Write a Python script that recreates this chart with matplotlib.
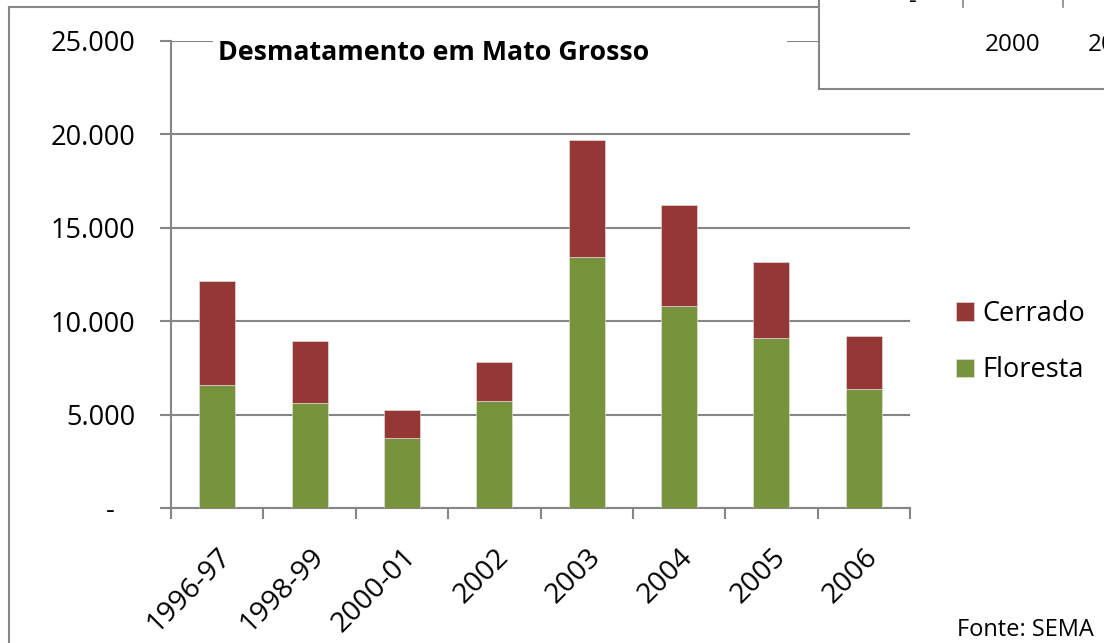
import matplotlib
matplotlib.use("Agg")
import matplotlib.pyplot as plt
import matplotlib.patches as mpatches
from matplotlib.lines import Line2D
import numpy as np

# --- data (km2) ---
periods = ["1996-97", "1998-99", "2000-01", "2002", "2003", "2004", "2005", "2006"]
floresta = [6600, 5600, 3750, 5730, 13440, 10800, 9080, 6370]
cerrado_total = [12150, 8940, 5230, 7820, 19700, 16220, 13150, 9190]
cerrado = [t - f for t, f in zip(cerrado_total, floresta)]
y_ticks = [0, 5000, 10000, 15000, 20000, 25000]
y_labels = ["-   ", "5.000", "10.000", "15.000", "20.000", "25.000"]

GREEN = "#77933C"
RED = "#953735"
GRAY = "#868686"
W, H = 1104, 643

plt.rcParams["font.family"] = ["Open Sans", "DejaVu Sans"]

fig = plt.figure(figsize=(W / 100, H / 100), dpi=100)


def fx(px):
    return px / W


def fy(py):
    return 1 - py / H


ax = fig.add_axes([fx(171), fy(508), fx(910) - fx(171), fy(41) - fy(508)])

x = np.arange(len(periods))
ax.bar(x, floresta, width=0.39, color=GREEN, edgecolor="#e8e8e8", linewidth=0.4, zorder=3,
       label="Floresta")
ax.bar(x, cerrado, bottom=floresta, width=0.39, color=RED, edgecolor="#e8e8e8", linewidth=0.4,
       zorder=3, label="Cerrado")

ax.set_xlim(-0.5, len(periods) - 0.5)
ax.set_ylim(0, 25000)

ax.set_yticks(y_ticks)
ax.set_yticklabels(y_labels, fontsize=19.5)
ax.yaxis.grid(True, color=GRAY, linewidth=1.5, zorder=0)
ax.set_axisbelow(True)
ax.tick_params(axis="y", length=8, width=1.5, color=GRAY, pad=17.5)

# category labels at centres, tick marks at the boundaries
ax.set_xticks(x)
ax.set_xticklabels(periods, rotation=45, ha="right", rotation_mode="anchor", fontsize=20.5)
ax.set_xticks(np.arange(len(periods) + 1) - 0.5, minor=True)
ax.tick_params(axis="x", which="major", length=0, pad=25)
ax.tick_params(axis="x", which="minor", length=8, width=1.5, color=GRAY)

for s in ["top", "right"]:
    ax.spines[s].set_visible(False)
for s in ["left", "bottom"]:
    ax.spines[s].set_color(GRAY)
    ax.spines[s].set_linewidth(1.5)

# title sits on a white box that hides the top gridline
fig.patches.append(mpatches.Rectangle((fx(213), fy(75)), fx(787) - fx(213), fy(30) - fy(75),
                                      transform=fig.transFigure, facecolor="white",
                                      edgecolor="none", zorder=5))
fig.text(fx(218), fy(53), "Desmatamento em Mato Grosso", fontsize=19.3, fontweight="bold",
         va="center", ha="left", zorder=6)

# legend (Cerrado on top)
h, l = ax.get_legend_handles_labels()
fig.legend(h[::-1], l[::-1], loc="upper left", bbox_to_anchor=(fx(956), fy(300)),
           frameon=False, fontsize=19.5, handlelength=0.68, handleheight=0.68,
           handletextpad=0.3, labelspacing=1.05, borderpad=0, borderaxespad=0)

fig.text(fx(957), fy(630), "Fonte: SEMA", fontsize=17, va="center", ha="left")

# outer chart frame (left and top edges)
fig.lines.append(Line2D([fx(9), fx(9)], [fy(7), 0], transform=fig.transFigure,
                        color=GRAY, linewidth=1.5))
fig.lines.append(Line2D([fx(9), fx(819)], [fy(7), fy(7)], transform=fig.transFigure,
                        color=GRAY, linewidth=1.5))

# overlapping piece of another chart in the top-right corner
fig.patches.append(mpatches.Rectangle((fx(819), fy(89)), fx(400), fy(-50) - fy(89),
                                      transform=fig.transFigure, facecolor="white",
                                      edgecolor=GRAY, linewidth=1.5, zorder=7))
for tx in [963, 1063]:
    fig.lines.append(Line2D([fx(tx), fx(tx)], [fy(7), 1], transform=fig.transFigure,
                            color=GRAY, linewidth=1.2, zorder=8))
fig.text(fx(913), fy(2), "-", fontsize=17, ha="center", va="center", zorder=8)
fig.text(fx(1013), fy(45), "2000", fontsize=17.5, ha="center", va="center", zorder=8)
fig.text(fx(1088), fy(45), "2001", fontsize=17.5, ha="left", va="center", zorder=8)

fig.savefig("out.png", dpi=100)
